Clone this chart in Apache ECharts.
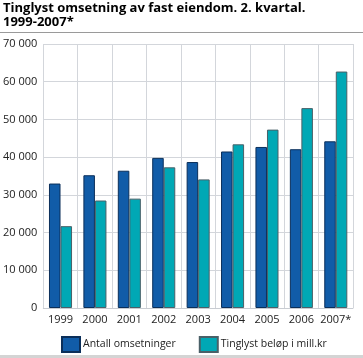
<!DOCTYPE html>
<html><head><meta charset="utf-8">
<script src="https://cdn.jsdelivr.net/npm/echarts@6/dist/echarts.min.js"></script>
<style>html,body{margin:0;padding:0;background:#fff}#c{width:363px;height:358px}</style>
</head><body><div id="c"></div>
<script>
const categories = ['1999','2000','2001','2002','2003','2004','2005','2006','2007*'];
const antallOmsetninger = [33000, 35200, 36400, 39800, 38700, 41500, 42700, 42100, 44200];
const tinglystBelop = [21700, 28500, 29000, 37300, 34100, 43400, 47300, 53000, 62700];
const seriesNames = ['Antall omsetninger', 'Tinglyst beløp i mill.kr'];
const titleLines = ['Tinglyst omsetning av fast eiendom. 2. kvartal.', '1999-2007*'];

const chart = echarts.init(document.getElementById('c'), null, {renderer:'canvas'});
const font = 'Open Sans';
chart.setOption({
  animation: false,
  textStyle: {fontFamily: font},
  title: {
    text: titleLines.join('\n'),
    left: 3, top: 1, padding: 0,
    textStyle: {fontFamily: font, fontWeight: 'bold', fontSize: 13, color: '#000', lineHeight: 14}
  },
  graphic: [
    {type:'rect', shape:{x:0,y:32,width:363,height:1}, style:{fill:'#9a9a9a'}},
    {type:'rect', shape:{x:0,y:355,width:363,height:3}, style:{fill:'#d4d4d4'}}
  ],
  legend: {
    left: 61, top: 336, padding: 0,
    itemWidth: 18, itemHeight: 15, itemGap: 23,
    icon: 'rect',
    textStyle: {fontFamily: font, fontSize: 10.5, color: '#222', padding:[0,0,0,-2]},
    data: seriesNames
  },
  grid: {left: 43, right: 10, top: 44, bottom: 50},
  xAxis: {
    type: 'category', data: categories,
    axisLine: {show: true, lineStyle: {color: '#c8ccd2'}},
    axisTick: {show: false},
    splitLine: {show: true, interval: 0, lineStyle: {color: '#d3d6db'}},
    axisLabel: {fontFamily: font, fontSize: 11, color: '#222', margin: 6, interval: 0}
  },
  yAxis: {
    type: 'value', min: 0, max: 70000, interval: 10000,
    axisLine: {show: false}, axisTick: {show: false},
    splitLine: {lineStyle: {color: '#d3d6db'}},
    axisLabel: {fontFamily: font, fontSize: 11, color: '#222', margin: 6,
      formatter: v => v === 0 ? '0' : String(v).replace(/(\d)(?=(\d{3})+$)/g, '$1 ')}
  },
  series: [
    {name: seriesNames[0], type: 'bar', data: antallOmsetninger, barGap: '0%', barCategoryGap: '33%',
      itemStyle: {color: '#115ca8', borderColor: '#0b2f5a', borderWidth: 1}},
    {name: seriesNames[1], type: 'bar', data: tinglystBelop,
      itemStyle: {color: '#00a8b5', borderColor: '#4a6068', borderWidth: 1}}
  ]
});
</script></body></html>
